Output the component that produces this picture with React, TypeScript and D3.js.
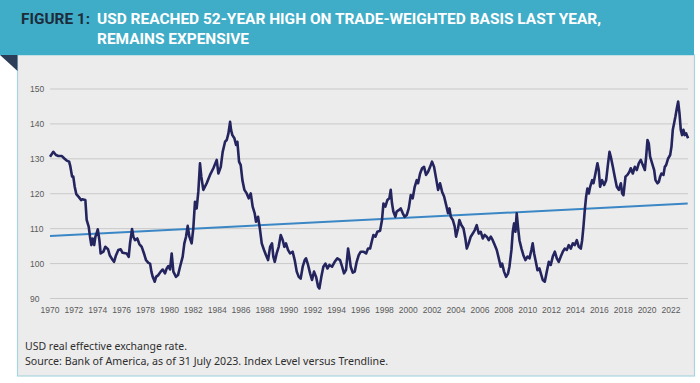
import React from "react";
import * as d3 from "d3";

const years: number[] = [
  1970.0, 1970.28, 1970.5, 1970.7, 1971.0, 1971.2, 1971.4, 1971.6, 1971.7, 1971.85, 1971.95,
  1972.07, 1972.2, 1972.4, 1972.6, 1972.7, 1972.96, 1973.07, 1973.24, 1973.35, 1973.46, 1973.57,
  1973.7, 1973.8, 1973.9, 1974.0, 1974.13, 1974.24, 1974.47, 1974.63, 1974.86, 1975.0, 1975.25,
  1975.36, 1975.53, 1975.72, 1975.92, 1976.08, 1976.42, 1976.59, 1976.7, 1976.87, 1976.98,
  1977.12, 1977.31, 1977.48, 1977.68, 1977.87, 1978.04, 1978.24, 1978.38, 1978.49, 1978.6,
  1978.77, 1978.88, 1979.07, 1979.27, 1979.44, 1979.63, 1979.77, 1979.91, 1980.05, 1980.19,
  1980.33, 1980.55, 1980.72, 1980.89, 1981.11, 1981.25, 1981.39, 1981.53, 1981.67, 1981.86,
  1982.0, 1982.14, 1982.28, 1982.42, 1982.56, 1982.67, 1982.84, 1983.12, 1983.4, 1983.68,
  1983.96, 1984.1, 1984.3, 1984.46, 1984.66, 1984.8, 1984.94, 1985.08, 1985.16, 1985.27,
  1985.44, 1985.58, 1985.69, 1985.83, 1985.97, 1986.11, 1986.28, 1986.47, 1986.64, 1986.81,
  1986.97, 1987.14, 1987.25, 1987.42, 1987.59, 1987.73, 1987.92, 1988.09, 1988.26, 1988.43,
  1988.59, 1988.7, 1988.82, 1988.98, 1989.15, 1989.32, 1989.49, 1989.62, 1989.76, 1989.93,
  1990.1, 1990.32, 1990.49, 1990.66, 1990.83, 1990.99, 1991.16, 1991.33, 1991.44, 1991.61,
  1991.78, 1991.94, 1992.11, 1992.28, 1992.45, 1992.56, 1992.72, 1992.89, 1993.06, 1993.23,
  1993.4, 1993.62, 1993.84, 1994.06, 1994.29, 1994.46, 1994.62, 1994.79, 1994.96, 1995.07,
  1995.18, 1995.35, 1995.52, 1995.68, 1995.85, 1996.02, 1996.24, 1996.47, 1996.63, 1996.8,
  1996.97, 1997.08, 1997.25, 1997.41, 1997.64, 1997.8, 1997.92, 1998.08, 1998.25, 1998.42,
  1998.53, 1998.64, 1998.75, 1998.92, 1999.03, 1999.2, 1999.37, 1999.54, 1999.7, 1999.87,
  2000.04, 2000.21, 2000.37, 2000.54, 2000.71, 2000.82, 2000.99, 2001.16, 2001.32, 2001.49,
  2001.66, 2001.83, 2001.99, 2002.16, 2002.33, 2002.5, 2002.66, 2002.83, 2003.0, 2003.17,
  2003.33, 2003.45, 2003.56, 2003.73, 2003.89, 2004.0, 2004.17, 2004.28, 2004.45, 2004.62,
  2004.78, 2004.9, 2005.06, 2005.23, 2005.4, 2005.57, 2005.73, 2005.9, 2006.07, 2006.24,
  2006.4, 2006.57, 2006.74, 2006.91, 2007.07, 2007.24, 2007.41, 2007.58, 2007.74, 2007.86,
  2008.02, 2008.19, 2008.36, 2008.47, 2008.64, 2008.75, 2008.86, 2008.97, 2009.08, 2009.2,
  2009.31, 2009.48, 2009.64, 2009.81, 2009.98, 2010.15, 2010.31, 2010.42, 2010.54, 2010.71,
  2010.82, 2010.98, 2011.26, 2011.43, 2011.6, 2011.77, 2011.93, 2012.1, 2012.27, 2012.44,
  2012.6, 2012.77, 2012.94, 2013.1, 2013.27, 2013.44, 2013.61, 2013.78, 2013.94, 2014.11,
  2014.28, 2014.45, 2014.56, 2014.67, 2014.78, 2014.89, 2015.0, 2015.12, 2015.23, 2015.4,
  2015.51, 2015.62, 2015.73, 2015.84, 2015.95, 2016.06, 2016.23, 2016.4, 2016.57, 2016.73,
  2016.85, 2016.96, 2017.13, 2017.29, 2017.46, 2017.63, 2017.8, 2017.91, 2018.02, 2018.19,
  2018.35, 2018.52, 2018.63, 2018.8, 2018.97, 2019.14, 2019.3, 2019.47, 2019.64, 2019.81,
  2019.92, 2020.03, 2020.14, 2020.25, 2020.42, 2020.59, 2020.7, 2020.87, 2020.98, 2021.09,
  2021.2, 2021.37, 2021.48, 2021.59, 2021.76, 2021.93, 2022.04, 2022.15, 2022.26, 2022.37,
  2022.49, 2022.6, 2022.71, 2022.82, 2022.93, 2023.04, 2023.16, 2023.27, 2023.38, 2023.43,
];

const usdIndex: number[] = [
  130.6, 132.0, 131.1, 130.8, 130.8, 130.1, 129.5, 129.2, 127.9, 124.9, 124.9,
  122.0, 119.9, 119.1, 118.2, 118.4, 118.2, 112.5, 110.6, 107.7, 105.3, 107.2,
  105.3, 107.7, 108.6, 109.8, 106.9, 102.9, 103.4, 104.8, 104.1, 102.4, 101.0,
  100.5, 102.4, 103.9, 104.1, 103.1, 102.9, 101.9, 105.8, 109.9, 107.7,
  106.7, 107.2, 105.6, 104.8, 102.9, 101.0, 100.2, 100.0, 97.7, 96.2,
  94.8, 96.2, 96.7, 97.7, 98.3, 97.2, 98.6, 99.3, 98.3, 102.9,
  97.7, 96.2, 96.7, 99.1, 102.0, 105.8, 107.7, 110.8, 107.7, 105.8,
  110.1, 117.7, 115.8, 120.6, 128.7, 124.9, 121.1, 123.0, 125.4, 127.3,
  129.7, 125.8, 127.7, 132.0, 134.9, 135.4, 137.3, 140.6, 138.3, 136.8,
  135.9, 134.0, 134.9, 129.2, 128.2, 123.9, 121.1, 120.1, 118.7, 120.1,
  116.3, 114.4, 112.0, 113.4, 109.6, 105.8, 103.9, 102.4, 101.0, 104.8,
  105.8, 102.0, 100.5, 102.9, 104.8, 108.2, 106.7, 104.8, 105.8, 103.9,
  102.9, 103.4, 101.0, 97.7, 96.2, 95.7, 99.1, 101.0, 101.5, 99.6,
  97.2, 95.3, 97.7, 96.2, 93.4, 92.9, 96.2, 99.1, 100.0, 98.6,
  99.6, 99.1, 100.5, 101.5, 101.0, 99.1, 97.2, 98.2, 104.3, 102.0,
  99.1, 97.4, 97.7, 100.5, 102.4, 103.4, 103.4, 102.9, 104.3, 104.3,
  106.7, 108.2, 107.7, 109.1, 109.4, 112.5, 117.2, 116.3, 118.2, 118.7,
  121.1, 117.2, 114.9, 113.4, 114.9, 115.3, 115.8, 114.4, 113.4, 113.9,
  115.8, 119.6, 118.7, 122.0, 123.9, 123.0, 125.8, 127.3, 127.7, 125.4,
  126.3, 127.7, 129.2, 127.7, 124.4, 121.1, 123.0, 120.6, 119.2, 116.8,
  114.4, 115.8, 113.4, 112.5, 110.6, 107.7, 110.1, 112.5, 111.0, 110.1,
  107.2, 104.3, 105.8, 107.7, 108.6, 109.6, 111.0, 108.6, 109.1, 107.2,
  108.2, 107.7, 106.7, 107.7, 106.7, 105.3, 103.9, 101.5, 99.1, 100.0,
  97.7, 96.2, 97.2, 99.1, 103.9, 109.1, 111.5, 109.1, 114.4, 110.1,
  106.7, 104.3, 102.4, 101.0, 102.0, 101.5, 103.9, 105.8, 102.9, 100.0,
  98.1, 98.6, 95.3, 94.8, 97.7, 100.5, 99.6, 102.0, 103.4, 101.5,
  100.5, 102.0, 103.4, 104.3, 103.9, 105.3, 104.3, 105.8, 105.3, 106.7,
  104.8, 104.3, 106.7, 110.6, 115.3, 119.1, 121.5, 120.1, 122.0, 123.9,
  123.0, 124.9, 126.8, 128.7, 126.8, 122.0, 123.9, 122.5, 123.9, 128.7,
  132.0, 130.6, 127.7, 124.9, 122.0, 121.1, 123.0, 120.1, 119.6, 124.9,
  125.4, 126.3, 127.3, 125.8, 127.7, 126.8, 128.7, 129.7, 128.2, 126.8,
  130.6, 135.4, 134.4, 130.6, 128.7, 126.8, 123.9, 123.0, 123.4, 124.9,
  125.8, 125.4, 127.7, 128.2, 130.1, 131.1, 133.5, 138.3, 140.2, 142.1,
  144.5, 146.4, 143.0, 138.3, 136.8, 138.3, 136.8, 137.3, 136.3, 135.9,
];

const trendYears: number[] = [1970.0, 2023.4];
const trendValues: number[] = [107.9, 117.2];

const yTicks: number[] = [90, 100, 110, 120, 130, 140, 150];
const xTicks: number[] = d3.range(1970, 2023, 2);

const titleLabel = "FIGURE 1:";
const titleLines: string[] = [
  "USD REACHED 52-YEAR HIGH ON TRADE-WEIGHTED BASIS LAST YEAR,",
  "REMAINS EXPENSIVE",
];
const notes: string[] = [
  "USD real effective exchange rate.",
  "Source: Bank of America, as of 31 July 2023. Index Level versus Trendline.",
];

export default function App() {
  const W = 700;
  const H = 383;
  const x = d3.scaleLinear().domain([1970, 2022]).range([50, 671]);
  const y = d3.scaleLinear().domain([90, 150]).range([298.5, 89]);

  const series = years.map((yr, i) => [yr, usdIndex[i]] as [number, number]);
  const trend = trendYears.map((yr, i) => [yr, trendValues[i]] as [number, number]);
  const line = d3
    .line<[number, number]>()
    .x((d) => x(d[0]))
    .y((d) => y(d[1]));

  const axisFont = "'Liberation Sans', Arial, sans-serif";
  const titleFont = "Roboto, 'Liberation Sans', Arial, sans-serif";
  const noteFont = "'Noto Sans', 'Open Sans', sans-serif";

  return (
    <svg
      width={W}
      height={H}
      style={{ position: "absolute", left: 0, top: 0, display: "block" }}
    >
      <rect x={0} y={0} width={W} height={H} fill="#ffffff" />
      {/* panel */}
      <rect x={17.5} y={55} width={677} height={321} fill="#ececec" stroke="#a9d5e1" strokeWidth={1.2} />
      {/* header band */}
      <rect x={0} y={0} width={694} height={55} fill="#3fadc7" />
      <path d="M0,55 L17.5,55 L17.5,71 Z" fill="#2b3d57" />

      <text x={21} y={24} fontFamily={titleFont} fontWeight={700} fontSize={15} fill="#1d2b3b"
        textLength={69} lengthAdjust="spacingAndGlyphs">{titleLabel}</text>
      <text x={97} y={24} fontFamily={titleFont} fontWeight={700} fontSize={15} fill="#ffffff"
        textLength={504} lengthAdjust="spacingAndGlyphs">{titleLines[0]}</text>
      <text x={97} y={44} fontFamily={titleFont} fontWeight={700} fontSize={15} fill="#ffffff"
        textLength={152} lengthAdjust="spacingAndGlyphs">{titleLines[1]}</text>

      {/* gridlines */}
      {yTicks.map((t) => (
        <line key={"g" + t} x1={50} x2={688} y1={y(t)} y2={y(t)} stroke="#c9c9c9" strokeWidth={1} />
      ))}
      {yTicks.map((t) => (
        <text key={"yl" + t} x={30} y={y(t) + 3.2} fontFamily={axisFont} fontSize={8.5} fill="#5a5a5a">
          {t}
        </text>
      ))}
      {xTicks.map((t) => (
        <text key={"xl" + t} x={x(t)} y={312.5} textAnchor="middle" fontFamily={axisFont} fontSize={8.5} fill="#5a5a5a">
          {t}
        </text>
      ))}

      <path d={line(trend) || ""} fill="none" stroke="#3b87c5" strokeWidth={2} />
      <path d={line(series) || ""} fill="none" stroke="#24245f" strokeWidth={2.6} strokeLinejoin="round" />

      <text x={25} y={349.5} fontFamily={noteFont} fontSize={10.5} fill="#2e2e2e"
        textLength={162} lengthAdjust="spacingAndGlyphs">{notes[0]}</text>
      <text x={25} y={365} fontFamily={noteFont} fontSize={10.5} fill="#2e2e2e"
        textLength={363} lengthAdjust="spacingAndGlyphs">{notes[1]}</text>
    </svg>
  );
}
